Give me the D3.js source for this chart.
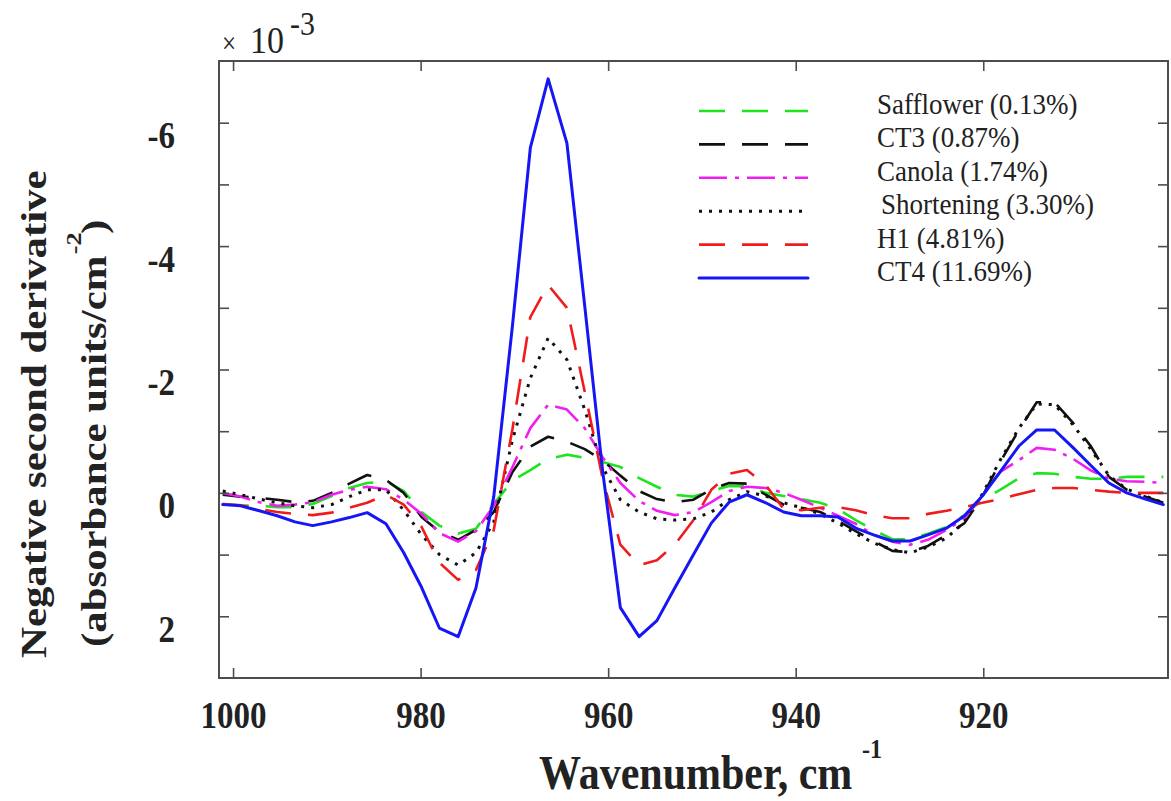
<!DOCTYPE html>
<html>
<head>
<meta charset="utf-8">
<script src="https://cdn.jsdelivr.net/npm/d3@7"></script>
<style>
  html, body { margin: 0; padding: 0; background: #fff; }
  svg { display: block; }
  text { font-family: "Liberation Serif", "Times New Roman", serif; fill: #222; }
</style>
</head>
<body>
<svg id="chart" width="1171" height="801"></svg>
<script>
// Wavenumber grid (cm^-1) of the second-derivative spectra
const wavenumbers = [1001.1, 999.2, 997.2, 995.3, 993.4, 991.5, 989.5, 987.6, 985.7, 983.7,
  981.8, 979.9, 978.0, 976.0, 974.1, 972.2, 970.2, 968.3, 966.4, 964.4,
  962.5, 960.6, 958.7, 956.7, 954.8, 952.9, 950.9, 949.0, 947.1, 945.2,
  943.2, 941.3, 939.4, 937.4, 935.5, 933.6, 931.7, 929.7, 927.8, 925.9,
  923.9, 922.0, 920.1, 918.2, 916.2, 914.3, 912.4, 910.4, 908.5, 906.6,
  904.7, 902.7, 900.8];

// Negative second derivative, x10^-3 absorbance units / cm^-2
const safflower = [0.18, 0.20, 0.21, 0.23, 0.23, 0.18, 0.05, -0.08, -0.16, -0.19,
  -0.03, 0.31, 0.53, 0.66, 0.58, 0.18, -0.20, -0.37, -0.55, -0.62,
  -0.57, -0.50, -0.42, -0.24, -0.10, 0.03, 0.06, -0.03, -0.11, -0.11,
  0.00, 0.05, 0.10, 0.16, 0.26, 0.44, 0.60, 0.75, 0.75, 0.66,
  0.55, 0.36, 0.11, -0.05, -0.24, -0.32, -0.31, -0.26, -0.23, -0.23,
  -0.26, -0.26, -0.26];
const ct3 = [0.03, 0.06, 0.08, 0.11, 0.15, 0.13, 0.00, -0.15, -0.29, -0.21,
  0.00, 0.39, 0.63, 0.76, 0.60, 0.31, -0.34, -0.75, -0.91, -0.83,
  -0.71, -0.53, -0.28, -0.03, 0.10, 0.15, 0.11, -0.06, -0.16, -0.15,
  0.03, 0.19, 0.24, 0.31, 0.45, 0.62, 0.78, 0.94, 0.96, 0.86,
  0.68, 0.49, 0.06, -0.50, -1.02, -1.47, -1.47, -1.13, -0.75, -0.26,
  -0.05, 0.06, 0.16];
const canola = [0.00, 0.06, 0.15, 0.21, 0.19, 0.15, 0.03, -0.05, -0.10, -0.06,
  0.11, 0.34, 0.65, 0.79, 0.62, 0.21, -0.42, -1.05, -1.43, -1.35,
  -1.05, -0.58, -0.16, 0.13, 0.29, 0.36, 0.31, 0.15, -0.03, -0.10,
  -0.08, 0.00, 0.11, 0.24, 0.37, 0.50, 0.68, 0.79, 0.84, 0.76,
  0.60, 0.41, 0.05, -0.34, -0.53, -0.73, -0.70, -0.55, -0.36, -0.23,
  -0.19, -0.18, -0.16];
const shortening = [-0.03, 0.03, 0.10, 0.16, 0.21, 0.24, 0.19, 0.06, -0.05, -0.05,
  0.28, 0.68, 1.00, 1.17, 0.97, 0.47, -0.86, -1.86, -2.51, -2.16,
  -1.35, -0.42, 0.11, 0.31, 0.42, 0.44, 0.42, 0.31, 0.11, -0.02,
  0.05, 0.16, 0.24, 0.34, 0.49, 0.66, 0.81, 0.92, 0.97, 0.88,
  0.73, 0.47, 0.02, -0.53, -1.05, -1.44, -1.43, -1.10, -0.70, -0.28,
  -0.06, 0.05, 0.16];
const h1 = [0.18, 0.20, 0.26, 0.31, 0.34, 0.36, 0.32, 0.24, 0.16, 0.03,
  0.19, 0.55, 1.13, 1.41, 1.25, 0.60, -1.04, -2.85, -3.37, -3.00,
  -1.64, -0.24, 0.84, 1.17, 1.09, 0.84, 0.44, -0.05, -0.31, -0.37,
  -0.13, 0.26, 0.28, 0.24, 0.23, 0.28, 0.36, 0.41, 0.41, 0.34,
  0.29, 0.23, 0.16, 0.10, 0.02, -0.05, -0.08, -0.08, -0.05, -0.02,
  0.00, 0.00, 0.00];
const ct4 = [0.19, 0.21, 0.29, 0.37, 0.47, 0.53, 0.47, 0.40, 0.32, 0.50,
  0.97, 1.53, 2.19, 2.33, 1.54, 0.06, -2.72, -5.59, -6.71, -5.67,
  -3.03, -0.37, 1.86, 2.33, 2.07, 1.54, 1.00, 0.49, 0.15, 0.03,
  0.16, 0.31, 0.37, 0.37, 0.39, 0.57, 0.68, 0.78, 0.78, 0.68,
  0.57, 0.37, 0.05, -0.34, -0.76, -1.02, -1.02, -0.73, -0.44, -0.16,
  0.00, 0.10, 0.19];

const seriesNames = ["Safflower (0.13%)", "CT3 (0.87%)", "Canola (1.74%)",
  "Shortening (3.30%)", "H1 (4.81%)", "CT4 (11.69%)"];
const seriesValues = [safflower, ct3, canola, shortening, h1, ct4];

const xTicks = [1000, 980, 960, 940, 920];
const yTicks = [-6, -5, -4, -3, -2, -1, 0, 1, 2];
const yTickLabels = [-6, -4, -2, 0, 2];

// Line styles, in legend order
const styles = [
  { color: "#1ee41e", dash: "26,17", width: 2.6, cap: "butt" },
  { color: "#111111", dash: "26,17", width: 2.6, cap: "butt" },
  { color: "#f01ef0", dash: "28,8,4,8", width: 2.6, cap: "butt" },
  { color: "#111111", dash: "3,7", width: 3, cap: "butt" },
  { color: "#f01c1c", dash: "26,17", width: 2.6, cap: "butt" },
  { color: "#1616f5", dash: null, width: 3, cap: "round" }
];

const svg = d3.select("#chart");
const plot = { left: 219, right: 1168, top: 61, bottom: 678 };
const yStretch = 1.14;

const x = d3.scaleLinear().domain([1001.5, 900.3]).range([plot.left, plot.right]);
const y = d3.scaleLinear().domain([-7, 3]).range([plot.top, plot.bottom]);

svg.append("defs").append("clipPath").attr("id", "plotClip")
  .append("rect")
  .attr("x", plot.left).attr("y", plot.top)
  .attr("width", plot.right - plot.left).attr("height", plot.bottom - plot.top);

// Spectra
const line = d3.line()
  .x((d, i) => x(wavenumbers[i]))
  .y(d => y(d));

const lines = svg.append("g").attr("clip-path", "url(#plotClip)");
seriesValues.forEach((vals, k) => {
  const s = styles[k];
  lines.append("path")
    .datum(vals)
    .attr("d", line)
    .attr("fill", "none")
    .attr("stroke", s.color)
    .attr("stroke-width", s.width)
    .attr("stroke-linejoin", "round")
    .attr("stroke-linecap", s.cap)
    .attr("stroke-dasharray", s.dash);
});

// Axes
const axisColor = "#4d4d4d";
const tickLen = 10;

function styleAxis(g) {
  g.select(".domain").remove();
  g.selectAll(".tick line").attr("stroke", axisColor).attr("stroke-width", 1.6);
}

svg.append("g")
  .attr("transform", `translate(0,${plot.bottom})`)
  .call(d3.axisBottom(x).tickValues(xTicks).tickSizeInner(-tickLen).tickSizeOuter(0)
    .tickFormat(d3.format("d")))
  .call(styleAxis)
  .call(g => g.selectAll(".tick text")
    .attr("y", null).attr("dy", null)
    .attr("transform", `translate(0,50) scale(1,${yStretch})`)
    .attr("text-anchor", "middle")
    .style("font-size", "33px").style("font-weight", "bold")
    .style("font-family", "'Liberation Serif', 'Times New Roman', serif")
    .attr("fill", "#222"));

svg.append("g")
  .attr("transform", `translate(0,${plot.top})`)
  .call(d3.axisTop(x).tickValues(xTicks).tickSizeInner(-tickLen).tickSizeOuter(0).tickFormat(""))
  .call(styleAxis);

svg.append("g")
  .attr("transform", `translate(${plot.left},0)`)
  .call(d3.axisLeft(y).tickValues(yTicks).tickSizeInner(-tickLen).tickSizeOuter(0)
    .tickFormat(d => yTickLabels.includes(d) ? String(d) : ""))
  .call(styleAxis)
  .call(g => g.selectAll(".tick text")
    .attr("x", null).attr("dy", null)
    .attr("transform", `translate(-44,25) scale(1,${yStretch})`)
    .attr("text-anchor", "end")
    .style("font-size", "33px").style("font-weight", "bold")
    .style("font-family", "'Liberation Serif', 'Times New Roman', serif")
    .attr("fill", "#222"));

svg.append("g")
  .attr("transform", `translate(${plot.right},0)`)
  .call(d3.axisRight(y).tickValues(yTicks).tickSizeInner(-tickLen).tickSizeOuter(0).tickFormat(""))
  .call(styleAxis);

// Plot frame
svg.append("rect")
  .attr("x", plot.left).attr("y", plot.top)
  .attr("width", plot.right - plot.left).attr("height", plot.bottom - plot.top)
  .attr("fill", "none").attr("stroke", axisColor).attr("stroke-width", 2);

// Exponent multiplier
const mult = svg.append("g").attr("transform", `translate(222,53) scale(1,${yStretch})`);
mult.append("text").attr("x", 0).attr("y", 0).style("font-size", "25px").text("\u00d7");
mult.append("text").attr("x", 28).attr("y", 0).style("font-size", "34px").text("10");
mult.append("text").attr("x", 68).attr("y", -16).style("font-size", "30px").text("-3");

// X axis title
const xt = svg.append("g").attr("transform", `translate(539,789) scale(1,${yStretch})`);
xt.append("text").attr("x", 0).attr("y", 0)
  .style("font-size", "42px").style("font-weight", "bold")
  .text("Wavenumber, cm");
xt.append("text").attr("x", 323).attr("y", -27)
  .style("font-size", "24px").style("font-weight", "bold")
  .text("-1");

// Y axis title (two rotated lines)
const titleStretch = 1.19;
const yt1 = svg.append("g").attr("transform", `translate(46,658) rotate(-90) scale(${titleStretch},1)`);
yt1.append("text").attr("x", 0).attr("y", 0)
  .style("font-size", "36px").style("font-weight", "bold")
  .text("Negative second derivative");

const yt2 = svg.append("g").attr("transform", `translate(106,647) rotate(-90) scale(${titleStretch},1)`);
yt2.append("text").attr("x", 0).attr("y", 0)
  .style("font-size", "36px").style("font-weight", "bold")
  .text("(absorbance units/cm");
yt2.append("text").attr("x", 330).attr("y", -25)
  .style("font-size", "22px").style("font-weight", "bold")
  .text("-2");
yt2.append("text").attr("x", 347).attr("y", 0)
  .style("font-size", "36px").style("font-weight", "bold")
  .text(")");

// Legend
const legend = svg.append("g");
seriesNames.forEach((name, k) => {
  const s = styles[k];
  const ly = 111 + k * 33.4;
  legend.append("line")
    .attr("x1", 699).attr("x2", 808).attr("y1", ly).attr("y2", ly)
    .attr("stroke", s.color).attr("stroke-width", s.width)
    .attr("stroke-linecap", s.cap)
    .attr("stroke-dasharray", s.dash);
  legend.append("text")
    .attr("transform", `translate(${k === 3 ? 881 : 877},${ly + 3}) scale(1,1.1)`)
    .style("font-size", "27px")
    .text(name);
});
</script>
</body>
</html>
